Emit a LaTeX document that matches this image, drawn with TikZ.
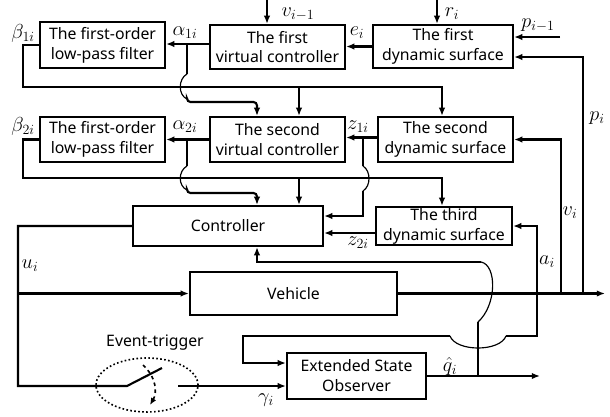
\documentclass[tikz,border=0pt]{standalone}
\usepackage{fontspec}
\usepackage{amsmath}
\setsansfont{Noto Sans}
\usetikzlibrary{shapes.geometric, arrows.meta, positioning, calc}

\begin{document}
\begin{tikzpicture}[x=0.03cm, y=-0.03cm,
    blk/.style={rectangle, draw, line width=1.8pt, align=center, inner sep=1pt,
                font=\sffamily\fontsize{13.5}{17}\selectfont},
    wire/.style={line width=1.8pt},
    arr/.style={wire, -{Latex[length=7pt,width=5.5pt]}},
    hop/.style={line width=1pt},
    lbl/.style={font=\fontsize{17}{19}\selectfont}]

    \useasboundingbox (0,0) rectangle (610,417);

    % Blocks
    \node[blk, minimum width=3.75cm, minimum height=1.38cm] (f1) at (102.5,45) {The first-order\\low-pass filter};
    \node[blk, minimum width=4.05cm, minimum height=1.32cm] (vc1) at (277.5,47) {The first\\virtual controller};
    \node[blk, minimum width=4.2cm, minimum height=1.29cm] (ds1) at (443,46.5) {The first\\dynamic surface};
    \node[blk, minimum width=3.75cm, minimum height=1.35cm] (f2) at (102.5,139.5) {The first-order\\low-pass filter};
    \node[blk, minimum width=4.05cm, minimum height=1.35cm] (vc2) at (277.5,139.5) {The second\\virtual controller};
    \node[blk, minimum width=4.05cm, minimum height=1.35cm] (ds2) at (445.5,139.5) {The second\\dynamic surface};
    \node[blk, minimum width=5.7cm, minimum height=1.2cm] (ctrl) at (228,226) {Controller};
    \node[blk, minimum width=4.08cm, minimum height=1.14cm] (ds3) at (444,226) {The third\\dynamic surface};
    \node[blk, minimum width=6.21cm, minimum height=1.29cm] (veh) at (293.5,293.5) {Vehicle};
    \node[blk, minimum width=4.17cm, minimum height=1.38cm] (eso) at (356.5,376) {Extended State\\Observer};

    % Event trigger
    \node[ellipse, draw, dotted, line width=1.4pt, minimum width=3.06cm, minimum height=1.62cm] (trig) at (147,385) {};
    \node[font=\sffamily\fontsize{13.5}{15}\selectfont] (trigl) at (155,343) {Event-trigger};

    % Points
    \coordinate (vin) at (267,0);
    \coordinate (rin) at (437,0);
    \coordinate (pin) at (560,37);
    \coordinate (pfb) at ($(ds1.east)+(0,10.5)$);
    \coordinate (a1o) at ($(vc1.west)+(0,-3)$);
    \coordinate (a1) at (187,44);
    \coordinate (a1d) at (257,102);
    \coordinate (b1l) at (23,87);
    \coordinate (b1m) at (299,87);
    \coordinate (b1r) at (442,87);
    \coordinate (z1o) at ($(ds2.west)+(0,-2)$);
    \coordinate (z1) at (363,137.5);
    \coordinate (z1d) at (363,216);
    \coordinate (a2) at (187,139.5);
    \coordinate (a2d) at (257,193);
    \coordinate (b2l) at (23,178);
    \coordinate (b2m) at (299,178);
    \coordinate (b2r) at (442,178);
    \coordinate (z2o) at ($(ds3.west)+(0,7)$);
    \coordinate (ud) at (18,386);
    \coordinate (ub) at (18,293.5);
    \coordinate (sw0) at (127,386);
    \coordinate (sw1) at (162,368);
    \coordinate (sw2) at (178,386);
    \coordinate (ai) at (537,293.5);
    \coordinate (vi) at (561,293.5);
    \coordinate (pi) at (583,293.5);
    \coordinate (vout) at (605,293.5);
    \coordinate (ein) at (243,363);
    \coordinate (qb) at (478,376);
    \coordinate (qend) at (540,376);
    \coordinate (cb) at (257,262);

    % Top row
    \draw[arr] (vin) -- (vin |- vc1.north);
    \draw[arr] (rin) -- (rin |- ds1.north);
    \draw[arr] (pin) -- (pin -| ds1.east);
    \draw[arr] (ds1.west) -- (ds1.west -| vc1.east);
    \draw[arr] (a1o) -- (a1o -| f1.east);
    \draw[arr] (pi) |- (pfb);

    % First filter loop
    \draw[arr] (f1.west) -| (b1l) -- (b1r) -- (b1r |- ds2.north);
    \draw[arr] (b1m) -- (b1m |- vc2.north);
    \draw[wire] (a1) -- (187,74);
    \draw[hop] (187,74) .. controls (178,79) and (178,95) .. (187,99);
    \draw[arr, rounded corners=3pt] (187,99) -- (187,102) -- (a1d) -- (a1d |- vc2.north);

    % Second row
    \draw[arr] (z1o) -- (z1o -| vc2.east);
    \draw[arr] (vc2.west) -- (vc2.west -| f2.east);
    \draw[arr] (vi) |- (ds2.east);

    % Second filter loop
    \draw[arr] (f2.west) -| (b2l) -- (b2r) -- (b2r |- ds3.north);
    \draw[arr] (b2m) -- (b2m |- ctrl.north);
    \draw[wire] (a2) -- (187,166);
    \draw[hop] (187,166) .. controls (178,171) and (178,186) .. (187,190);
    \draw[arr, rounded corners=3pt] (187,190) -- (187,193) -- (a2d) -- (a2d |- ctrl.north);
    \draw[wire] (z1) -- (363,166);
    \draw[hop] (363,166) .. controls (371,171) and (371,186) .. (363,191);
    \draw[arr] (363,191) -- (z1d) -- (z1d -| ctrl.east);
    \draw[arr] (z2o) -- (z2o -| ctrl.east);

    % Vehicle and feedback
    \draw[wire] (ctrl.west) -| (ud) -- (sw0) -- (sw1);
    \draw[arr] (ub) -- (ub -| veh.west);
    \draw[arr] (veh.east) -- (vout);
    \draw[arr] (ai) |- (ds3.east);
    \draw[wire] (ai) -- (537,336) -- (506,336);
    \draw[hop] (506,336) .. controls (500,352) and (456,352) .. (450,336);
    \draw[arr] (450,336) -| (ein) -- (ein -| eso.west);

    % Observer
    \draw[arr] (sw2) -- (sw2 -| eso.west);
    \draw[arr] (eso.east) -- (qend);
    \draw[wire] (qb) -- (478,322);
    \draw[hop] (478,322) .. controls (497,305) and (497,265) .. (481,262);
    \draw[arr] (481,262) -- (cb) -- (cb |- ctrl.south);
    \draw[dashed, line width=1.4pt, -{Latex[length=6pt,width=5pt]}] (143,365) .. controls (157,378) and (157,393) .. (150,405);

    % Labels
    \node[lbl] (lv) at (298,14) {$v_{i-1}$};
    \node[lbl] (lr) at (452,14) {$r_i$};
    \node[lbl] (lp1) at (538,25) {$p_{i-1}$};
    \node[lbl] (le) at (357,33) {$e_i$};
    \node[lbl] (la1) at (185,33) {$\alpha_{1i}$};
    \node[lbl] (lb1) at (23,33) {$\beta_{1i}$};
    \node[lbl] (lpi) at (597,118) {$p_i$};
    \node[lbl] (la2) at (185,127) {$\alpha_{2i}$};
    \node[lbl] (lb2) at (23,126) {$\beta_{2i}$};
    \node[lbl] (lz1) at (358,127) {$z_{1i}$};
    \node[lbl] (lvi) at (570,213) {$v_i$};
    \node[lbl] (lz2) at (358,243) {$z_{2i}$};
    \node[lbl] (lai) at (547,262) {$a_i$};
    \node[lbl] (lu) at (30,266) {$u_i$};
    \node[lbl] (lq) at (450,366) {$\hat{q}_i$};
    \node[lbl] (lg) at (266,400) {$\gamma_i$};
\end{tikzpicture}
\end{document}
